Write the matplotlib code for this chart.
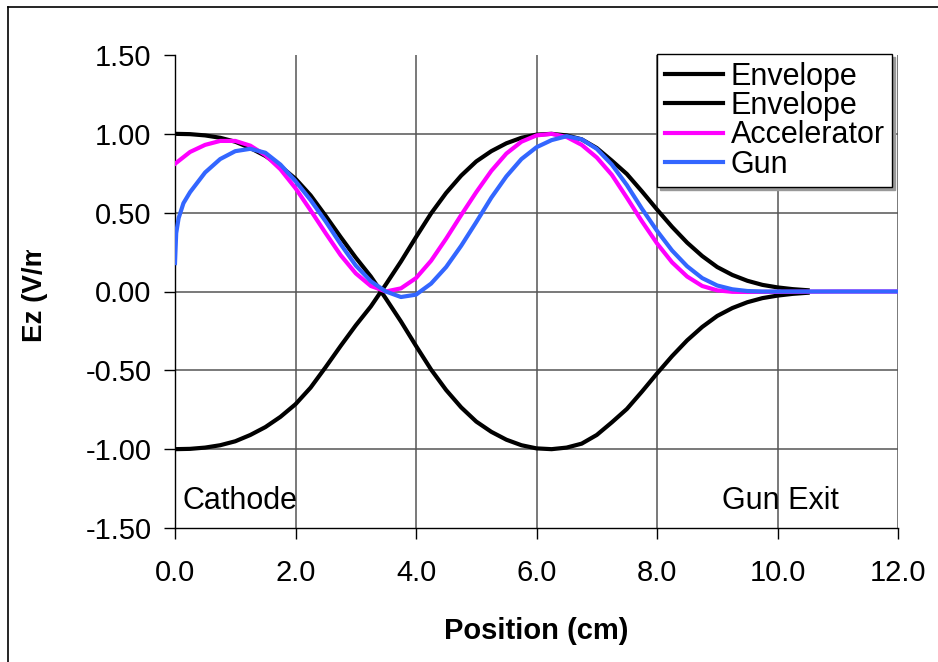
import matplotlib
matplotlib.use("Agg")
import matplotlib.pyplot as plt
from matplotlib.lines import Line2D
from matplotlib.transforms import Bbox, TransformedBbox

plt.rcParams['font.family'] = ['Liberation Sans', 'DejaVu Sans']

# ---------------- data ----------------
env_x = [0.0, 0.25, 0.5, 0.75, 1.0, 1.25, 1.5, 1.75, 2.0, 2.25, 2.5, 2.75, 3.0, 3.25,
         3.5, 3.75, 4.0, 4.25, 4.5, 4.75, 5.0, 5.25, 5.5, 5.75, 6.0, 6.25, 6.5, 6.75,
         7.0, 7.25, 7.5, 7.75, 8.0, 8.25, 8.5, 8.75, 9.0, 9.25, 9.5, 9.75, 10.0, 10.25, 10.5]
env1_y = [1.0, 0.998, 0.99, 0.975, 0.95, 0.91, 0.86, 0.795, 0.715, 0.61, 0.48, 0.345, 0.215, 0.095,
          -0.045, -0.19, -0.345, -0.495, -0.625, -0.735, -0.825, -0.89, -0.94, -0.975, -0.995, -1.0, -0.99, -0.965,
          -0.91, -0.83, -0.745, -0.635, -0.52, -0.41, -0.31, -0.225, -0.155, -0.105, -0.068, -0.042, -0.026, -0.015, -0.008]
env2_y = [-1.0, -0.998, -0.99, -0.975, -0.95, -0.91, -0.86, -0.795, -0.715, -0.61, -0.48, -0.345, -0.215, -0.095,
          0.045, 0.19, 0.345, 0.495, 0.625, 0.735, 0.825, 0.89, 0.94, 0.975, 0.995, 1.0, 0.99, 0.965,
          0.91, 0.83, 0.745, 0.635, 0.52, 0.41, 0.31, 0.225, 0.155, 0.105, 0.068, 0.042, 0.026, 0.015, 0.008]

acc_x = [0.0, 0.25, 0.5, 0.75, 1.0, 1.25, 1.5, 1.75, 2.0, 2.25, 2.5, 2.75, 3.0, 3.25,
         3.5, 3.75, 4.0, 4.25, 4.5, 4.75, 5.0, 5.25, 5.5, 5.75, 6.0, 6.25, 6.5, 6.75,
         7.0, 7.25, 7.5, 7.75, 8.0, 8.25, 8.5, 8.75, 9.0, 9.25, 9.5, 10.0, 11.0, 12.0]
acc_y = [0.81, 0.885, 0.93, 0.955, 0.955, 0.925, 0.865, 0.775, 0.655, 0.515, 0.37, 0.23, 0.115, 0.035,
         0.0, 0.02, 0.085, 0.195, 0.335, 0.485, 0.63, 0.765, 0.875, 0.95, 0.99, 1.0, 0.98, 0.93,
         0.85, 0.74, 0.595, 0.445, 0.305, 0.185, 0.095, 0.035, 0.007, -0.002, -0.003, -0.002, 0.0, 0.0]

gun_x = [0.0, 0.02, 0.06, 0.14, 0.25, 0.5, 0.75, 1.0, 1.25, 1.5, 1.75, 2.0, 2.25, 2.5, 2.75,
         3.0, 3.25, 3.5, 3.75, 4.0, 4.25, 4.5, 4.75, 5.0, 5.25, 5.5, 5.75, 6.0, 6.25, 6.5,
         6.75, 7.0, 7.25, 7.5, 7.75, 8.0, 8.25, 8.5, 8.75, 9.0, 9.25, 9.5, 9.75, 11.0, 12.0]
gun_y = [0.18, 0.37, 0.465, 0.56, 0.63, 0.755, 0.84, 0.89, 0.905, 0.88, 0.805, 0.70, 0.58, 0.445, 0.30,
         0.165, 0.065, 0.0, -0.035, -0.02, 0.05, 0.155, 0.29, 0.44, 0.595, 0.73, 0.84, 0.915, 0.96, 0.985,
         0.965, 0.905, 0.805, 0.675, 0.525, 0.385, 0.26, 0.16, 0.085, 0.038, 0.014, 0.003, 0.0, 0.0, 0.0]

series_labels = ["Envelope", "Envelope", "Accelerator", "Gun"]
series_colors = ["#000000", "#000000", "#FF00FF", "#3366FF"]

x_ticks = [0, 2, 4, 6, 8, 10, 12]
x_tick_labels = ["0.0", "2.0", "4.0", "6.0", "8.0", "10.0", "12.0"]
y_ticks = [-1.5, -1.0, -0.5, 0.0, 0.5, 1.0, 1.5]
y_tick_labels = ["-1.50", "-1.00", "-0.50", "0.00", "0.50", "1.00", "1.50"]

# ---------------- figure ----------------
W, H = 938, 662
fig = plt.figure(figsize=(W / 100, H / 100), dpi=100)
ax = fig.add_axes([175 / W, 1 - 528 / H, 723 / W, 473 / H])

lw = 3.0
ax.plot(env_x, env1_y, color=series_colors[0], lw=lw, label=series_labels[0], zorder=3)
ax.plot(env_x, env2_y, color=series_colors[1], lw=lw, label=series_labels[1], zorder=3)
ax.plot(acc_x, acc_y, color=series_colors[2], lw=lw, label=series_labels[2], zorder=4)
ax.plot(gun_x, gun_y, color=series_colors[3], lw=lw, label=series_labels[3], zorder=5)

ax.set_xlim(0, 12)
ax.set_ylim(-1.5, 1.5)
ax.set_xticks(x_ticks)
ax.set_xticklabels(x_tick_labels)
ax.set_yticks(y_ticks)
ax.set_yticklabels(y_tick_labels)

ax.grid(True, color="#555555", lw=1.1)
ax.set_axisbelow(True)
ax.yaxis.get_gridlines()[-1].set_visible(False)
ax.yaxis.get_gridlines()[0].set_visible(False)

for s in ["top", "right"]:
    ax.spines[s].set_visible(False)
for s in ["left", "bottom"]:
    ax.spines[s].set_color("black")
    ax.spines[s].set_linewidth(1.0)

ax.tick_params(axis="both", direction="out", length=8, width=1, colors="black", labelsize=21)
ax.tick_params(axis="y", pad=9)
ax.tick_params(axis="x", pad=14)

ax.set_xlabel("Position (cm)", fontsize=21, fontweight="bold", labelpad=22)

# clipped y label
yl = fig.text(35 / W, 1 - 342 / H, "Ez (V/m)", rotation=90, ha="center", va="bottom",
              fontsize=20, fontweight="bold")
yl.set_clip_on(True)
yl.set_clip_box(TransformedBbox(Bbox([[0, 0], [1, 1 - 250 / H]]), fig.transFigure))

ax.text(0.12, -1.33, "Cathode", fontsize=22, ha="left", va="center")
ax.text(9.08, -1.33, "Gun Exit", fontsize=22, ha="left", va="center")

leg = ax.legend(loc="upper right", bbox_to_anchor=(0.992, 1.002), borderaxespad=0,
                fontsize=22, frameon=True, fancybox=False, shadow={"color": "#999999", "alpha": 1},
                handlelength=1.9, handletextpad=0.25, labelspacing=-0.02, borderpad=0.25)
leg.get_frame().set_edgecolor("black")
leg.get_frame().set_linewidth(1.0)

# outer frame (partially outside the image)
fig.add_artist(Line2D([8 / W, 1.0], [1 - 7 / H, 1 - 7 / H], transform=fig.transFigure, color="black", lw=1.2))
fig.add_artist(Line2D([8 / W, 8 / W], [0.0, 1 - 7 / H], transform=fig.transFigure, color="black", lw=1.2))

fig.savefig("out.png", dpi=100)
